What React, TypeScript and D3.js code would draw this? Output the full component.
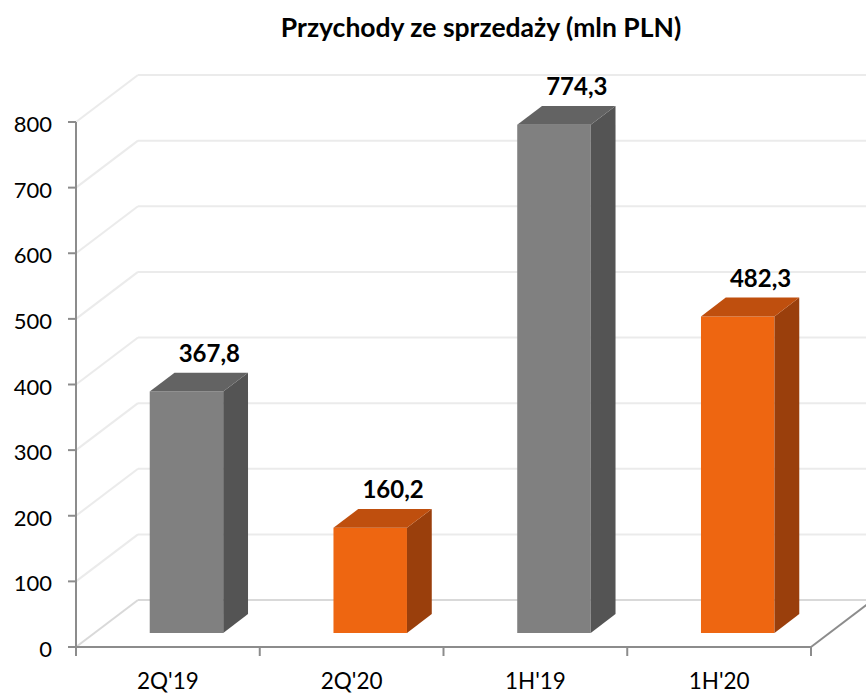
import React from 'react';
import * as d3 from 'd3';

// chart data
const categories = ["2Q'19", "2Q'20", "1H'19", "1H'20"];
const values = [367.8, 160.2, 774.3, 482.3];
const valueLabels = ['367,8', '160,2', '774,3', '482,3'];
const yTicks = [0, 100, 200, 300, 400, 500, 600, 700, 800];
const barKinds = ['gray', 'orange', 'gray', 'orange'];

const palette: Record<string, { front: string; side: string; top: string }> = {
  gray: { front: '#808080', side: '#545454', top: '#636363' },
  orange: { front: '#EE6611', side: '#9A3F0C', top: '#BF4F0E' },
};

const W = 866;
const H = 693;
// depth of the 3D box (floor goes back and up)
const DX = 62;
const DY = -47;
const F0 = 0.3; // bar front, as fraction of depth
const F1 = 0.7; // bar back

const font = 'Lato, "Open Sans", sans-serif';

const App: React.FC = () => {
  const x = d3.scaleBand<string>().domain(categories).range([76, 811]).paddingInner(0.6).paddingOuter(0.3);
  const y = d3.scaleLinear().domain([0, 800]).range([647, 122]);
  const step = x.step();
  const bw = x.bandwidth();
  const [xl, xr] = x.range();
  const edges = d3.range(categories.length + 1).map((i) => xl + i * step);

  const pts = (arr: number[][]) => arr.map((p) => p.join(',')).join(' ');

  return (
    <svg width={W} height={H} style={{ position: 'absolute', left: 0, top: 0, background: '#fff' }}>
      <text x={481} y={37} textAnchor="middle" fontFamily={font} fontWeight="bold" fontSize={26.5} fill="#000">
        Przychody ze sprzedaży (mln PLN)
      </text>

      {/* walls: gridlines */}
      {yTicks.map((v) => (
        <g key={v} fill="none" strokeWidth={2} stroke={v === 0 ? '#d9d9d9' : '#ebebeb'}>
          <line x1={xl} y1={y(v)} x2={xl + DX} y2={y(v) + DY} />
          <line x1={xl + DX} y1={y(v) + DY} x2={xr + DX} y2={y(v) + DY} />
        </g>
      ))}

      {/* floor right edge */}
      <line x1={xr} y1={y(0)} x2={xr + DX} y2={y(0) + DY} stroke="#8c8c8c" strokeWidth={2} />

      {/* bars */}
      {categories.map((c, i) => {
        const col = palette[barKinds[i]];
        const x0 = x(c) as number;
        const x1 = x0 + bw;
        const yb = y(0);
        const yt = y(values[i]);
        const a = [F0 * DX, F0 * DY];
        const b = [F1 * DX, F1 * DY];
        return (
          <g key={c}>
            <polygon
              fill={col.front}
              points={pts([
                [x0 + a[0], yb + a[1]],
                [x1 + a[0], yb + a[1]],
                [x1 + a[0], yt + a[1]],
                [x0 + a[0], yt + a[1]],
              ])}
            />
            <polygon
              fill={col.side}
              points={pts([
                [x1 + a[0], yb + a[1]],
                [x1 + b[0], yb + b[1]],
                [x1 + b[0], yt + b[1]],
                [x1 + a[0], yt + a[1]],
              ])}
            />
            <polygon
              fill={col.top}
              points={pts([
                [x0 + a[0], yt + a[1]],
                [x1 + a[0], yt + a[1]],
                [x1 + b[0], yt + b[1]],
                [x0 + b[0], yt + b[1]],
              ])}
            />
            <text
              x={x0 + bw / 2 + b[0] - 2}
              y={yt + b[1] - 11}
              textAnchor="middle"
              fontFamily={font}
              fontWeight="bold"
              fontSize={24}
              fill="#000"
            >
              {valueLabels[i]}
            </text>
          </g>
        );
      })}

      {/* y axis */}
      <line x1={xl} y1={y(800)} x2={xl} y2={y(0)} stroke="#8c8c8c" strokeWidth={2} />
      {yTicks.map((v) => (
        <g key={'t' + v}>
          <line x1={68} y1={y(v)} x2={xl} y2={y(v)} stroke="#8c8c8c" strokeWidth={2} />
          <text x={52} y={y(v) + 10} textAnchor="end" fontFamily={font} fontSize={22} fill="#000">
            {v}
          </text>
        </g>
      ))}

      {/* x axis */}
      <line x1={xl} y1={y(0)} x2={xr} y2={y(0)} stroke="#8c8c8c" strokeWidth={2} />
      {edges.map((e, i) => (
        <line key={'e' + i} x1={e} y1={y(0)} x2={e} y2={y(0) + 9} stroke="#8c8c8c" strokeWidth={2} />
      ))}
      {categories.map((c) => (
        <text
          key={'l' + c}
          x={(x(c) as number) + bw / 2}
          y={689}
          textAnchor="middle"
          fontFamily={font}
          fontSize={22.5}
          fill="#000"
        >
          {c}
        </text>
      ))}
    </svg>
  );
};

export default App;
